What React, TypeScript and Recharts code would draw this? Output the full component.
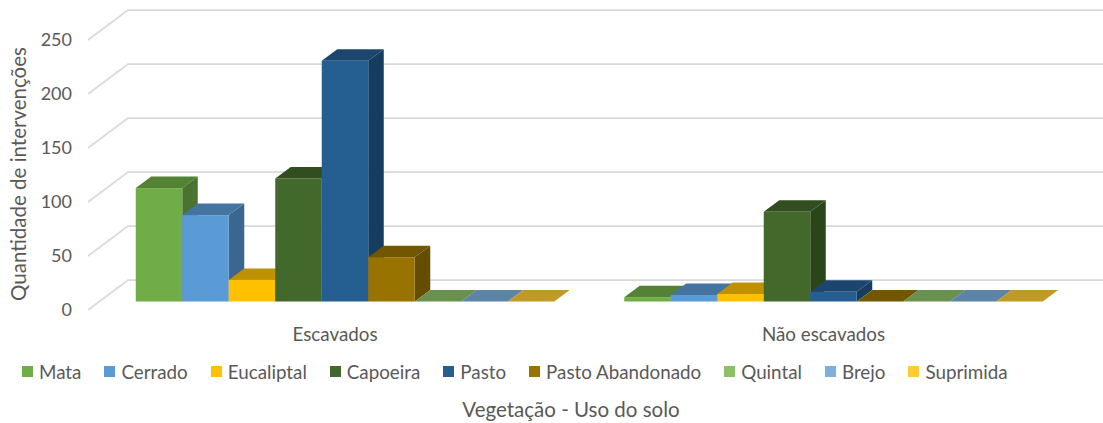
import { BarChart, Bar, XAxis, YAxis, CartesianGrid, Legend } from "recharts"

const categories = ["Escavados", "Não escavados"]
const yTicks = [0, 50, 100, 150, 200, 250]

const seriesNames = ["Mata", "Cerrado", "Eucaliptal", "Capoeira", "Pasto", "Pasto Abandonado", "Quintal", "Brejo", "Suprimida"]

const mata = [105, 4]
const cerrado = [80, 6]
const eucaliptal = [20, 7]
const capoeira = [114, 83]
const pasto = [223, 9]
const pastoAbandonado = [41, 0]
const quintal = [0, 0]
const brejo = [0, 0]
const suprimida = [0, 0]

const seriesValues = [mata, cerrado, eucaliptal, capoeira, pasto, pastoAbandonado, quintal, brejo, suprimida]

const data = categories.map((name, c) => {
  const row: Record<string, string | number> = { name }
  seriesNames.forEach((s, i) => {
    row[s] = seriesValues[i][c]
  })
  return row
})

// front, top and side faces of each series
const FRONT = ["#70AD47", "#5B9BD5", "#FFC000", "#43682B", "#255E91", "#997300", "#8CC168", "#7CAFDD", "#FFCD33"]
const TOP = ["#548235", "#44749F", "#BF9000", "#324E20", "#1C466D", "#735600", "#69914E", "#5D83A6", "#BF9A26"]
const SIDE = ["#4A732F", "#3C6690", "#A87F00", "#2C4419", "#163D5F", "#644C00", "#5C7F44", "#527391", "#A88721"]

const TEXT = "#595959"
const FONT = "Lato"

// how far the bars and the back wall sit behind the front of the floor
const DEPTH_X = 15.5
const DEPTH_Y = 11.5
const WALL_X = 40
const WALL_Y = 21.5
const FRONT_X = -12.75
const FRONT_Y = 8.5

function Bar3D(props: any) {
  const { x, y, width, height, index } = props
  const i = props.seriesIndex
  const top = `${x},${y} ${x + DEPTH_X},${y - DEPTH_Y} ${x + width + DEPTH_X},${y - DEPTH_Y} ${x + width},${y}`
  const side = `${x + width},${y} ${x + width + DEPTH_X},${y - DEPTH_Y} ${x + width + DEPTH_X},${y + height - DEPTH_Y} ${x + width},${y + height}`
  return (
    <g key={index}>
      <polygon points={side} fill={SIDE[i]} />
      <polygon points={top} fill={TOP[i]} />
      <rect x={x} y={y} width={width} height={height} fill={FRONT[i]} />
    </g>
  )
}

// wall line plus the diagonal running to the front of the floor
function WallLine(props: any) {
  const { x1, y1, key } = props
  const wallY = y1 - WALL_Y
  return (
    <polyline
      key={key ?? y1}
      points={`${x1 + FRONT_X},${y1 + FRONT_Y} ${x1 + FRONT_X + WALL_X},${wallY} 1103,${wallY}`}
      fill="none"
      stroke="#D9D9D9"
      strokeWidth={1.75}
    />
  )
}

function ValueTick(props: any) {
  const { y, payload } = props
  return (
    <text x={72} y={y + FRONT_Y + 6} textAnchor="end" fontFamily={FONT} fontSize={18} fill={TEXT}>
      {payload.value}
    </text>
  )
}

function CategoryTick(props: any) {
  const { x, payload } = props
  return (
    <text x={x - 10} y={341} textAnchor="middle" fontFamily={FONT} fontSize={18.8} fill={TEXT}>
      {payload.value}
    </text>
  )
}

function LegendRow(props: any) {
  return (
    <div style={{ display: "flex", alignItems: "center", gap: 23, fontFamily: FONT, fontSize: 18.8, color: TEXT, whiteSpace: "nowrap" }}>
      {props.payload.map((item: any) => (
        <div key={item.value} style={{ display: "flex", alignItems: "center", gap: 6 }}>
          <div style={{ width: 11, height: 11, background: item.color }} />
          {item.value}
        </div>
      ))}
    </div>
  )
}

export default function App() {
  return (
    <div style={{ position: "absolute", left: 0, top: 0 }}>
      <BarChart
        width={1103}
        height={423}
        data={data}
        margin={{ top: 31.5, right: 25.25, bottom: 0, left: 0 }}
        barSize={46.5}
        barGap={0}
      >
        <CartesianGrid horizontal={WallLine} vertical={false} />
        <XAxis
          dataKey="name"
          height={93.5}
          axisLine={false}
          tickLine={false}
          tick={CategoryTick}
          interval={0}
        />
        <YAxis
          domain={[0, 250]}
          ticks={yTicks}
          width={100.75}
          axisLine={false}
          tickLine={false}
          tick={ValueTick}
        />
        <Legend
          content={LegendRow}
          itemSorter={null}
          wrapperStyle={{ position: "absolute", left: 22, top: 360, width: 1060, height: 28 }}
        />
        {seriesNames.map((s, i) => (
          <Bar
            key={s}
            dataKey={s}
            name={s}
            fill={FRONT[i]}
            isAnimationActive={false}
            shape={(p: any) => <Bar3D {...p} seriesIndex={i} />}
          />
        ))}
        <text x={571} y={417} textAnchor="middle" fontFamily={FONT} fontSize={20.5} fill={TEXT}>
          Vegetação - Uso do solo
        </text>
        <text
          transform="translate(26 174) rotate(-90)"
          textAnchor="middle"
          fontFamily={FONT}
          fontSize={20.5}
          fill={TEXT}
        >
          Quantidade de intervenções
        </text>
      </BarChart>
    </div>
  )
}
